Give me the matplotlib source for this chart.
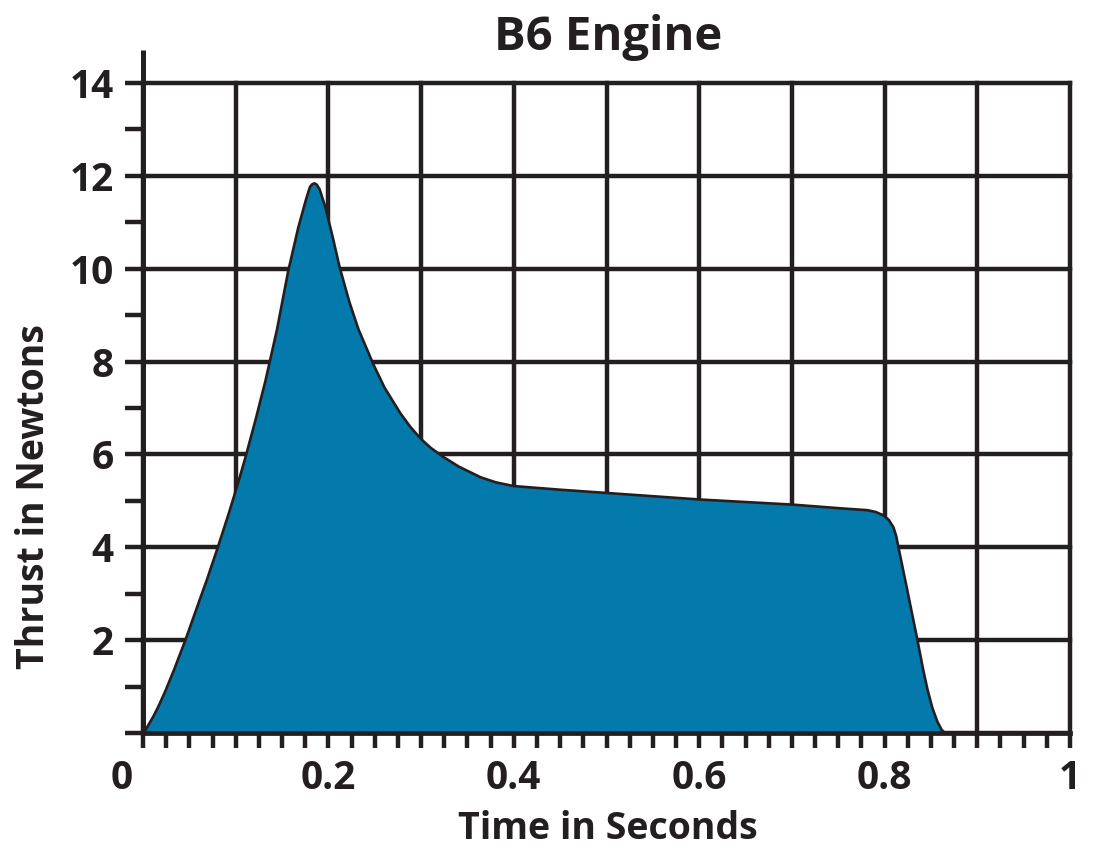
import numpy as np
import matplotlib
matplotlib.use("Agg")
import matplotlib.pyplot as plt
from matplotlib.ticker import MultipleLocator, FixedLocator

# thrust curve
time_s = [0.000, 0.011, 0.0165, 0.0237, 0.0327, 0.045, 0.056, 0.0687, 0.080, 0.092,
          0.1018, 0.110, 0.1208, 0.1316, 0.144, 0.156, 0.167, 0.175, 0.1795, 0.182,
          0.1845, 0.187, 0.190, 0.196, 0.204, 0.2115, 0.222, 0.232, 0.248, 0.260,
          0.277, 0.288, 0.299, 0.310, 0.324, 0.340, 0.3635, 0.380, 0.399, 0.45,
          0.50, 0.60, 0.70, 0.752, 0.781, 0.790, 0.798, 0.804, 0.809, 0.812,
          0.8145, 0.824, 0.835, 0.841, 0.8457, 0.851, 0.8565, 0.861, 0.865]
thrust_n = [0.00, 0.38, 0.60, 0.92, 1.36, 2.00, 2.62, 3.33, 4.00, 4.74,
            5.38, 5.95, 6.75, 7.60, 8.70, 9.95, 10.90, 11.48, 11.77, 11.83,
            11.85, 11.82, 11.72, 11.35, 10.70, 10.05, 9.30, 8.70, 7.95, 7.45,
            6.90, 6.60, 6.35, 6.15, 5.95, 5.75, 5.52, 5.41, 5.33, 5.25,
            5.18, 5.04, 4.93, 4.85, 4.81, 4.77, 4.70, 4.60, 4.44, 4.25,
            4.00, 3.08, 2.00, 1.38, 0.95, 0.55, 0.25, 0.08, 0.00]

x_major = [0, 0.1, 0.2, 0.3, 0.4, 0.5, 0.6, 0.7, 0.8, 0.9, 1.0]
x_labels = ["", "", "0.2", "", "0.4", "", "0.6", "", "0.8", "", "1"]
y_major = [0, 2, 4, 6, 8, 10, 12, 14]
y_labels = ["", "2", "4", "6", "8", "10", "12", "14"]

dark = "#231f20"
blue = "#0479ac"

plt.rcParams["font.family"] = ["Open Sans", "DejaVu Sans"]
plt.rcParams["font.weight"] = "bold"

fig = plt.figure(figsize=(10.93, 8.57), dpi=100)
ax = fig.add_axes([143 / 1093, 1 - 733 / 857, 927 / 1093, 650 / 857])

ax.fill_between(time_s, thrust_n, 0, facecolor=blue, edgecolor=dark, linewidth=1.9,
                zorder=3, joinstyle="round")

ax.set_xlim(0, 1)
ax.set_ylim(0, 14)

ax.xaxis.set_major_locator(FixedLocator(x_major))
ax.set_xticklabels(x_labels)
ax.xaxis.set_minor_locator(MultipleLocator(0.025))
ax.yaxis.set_major_locator(FixedLocator(y_major))
ax.set_yticklabels(y_labels)
ax.yaxis.set_minor_locator(MultipleLocator(1))

ax.tick_params(axis="x", which="both", direction="out", length=11, width=3.2,
               color=dark, labelsize=28, labelcolor=dark, pad=8)
ax.tick_params(axis="y", which="both", direction="out", length=13, width=3.2,
               color=dark, labelsize=28, labelcolor=dark, pad=8)

ax.set_axisbelow(True)
ax.grid(True, which="major", color=dark, linewidth=3.2)
for gl in ax.get_xgridlines() + ax.get_ygridlines():
    gl.set_clip_on(False)

for side in ["top", "right", "left"]:
    ax.spines[side].set_visible(False)
ax.spines["bottom"].set_linewidth(3.4)
ax.spines["bottom"].set_color(dark)
ax.spines["bottom"].set_zorder(4)

# left axis line reaches above the top gridline
ax.plot([0, 0], [0, 14.71], color=dark, linewidth=3.6, clip_on=False, zorder=4,
        solid_capstyle="butt")

# the "0" sits left of the axis
ax.annotate("0", xy=(0, 0), xytext=(-15, -19), textcoords="offset points",
            ha="center", va="top", fontsize=28, color=dark, fontweight="bold")

ax.set_xlabel("Time in Seconds", fontsize=27, color=dark, fontweight="bold")
ax.xaxis.set_label_coords(0.501, -0.118)
ax.set_ylabel("Thrust in Newtons", fontsize=27, color=dark, fontweight="bold")
ax.yaxis.set_label_coords(-0.097, 0.363)

ax.text(0.502, 1.0508, "B6 Engine", transform=ax.transAxes, ha="center", va="baseline",
        fontsize=34, color=dark, fontweight="bold")

fig.savefig("out.png", dpi=100)
